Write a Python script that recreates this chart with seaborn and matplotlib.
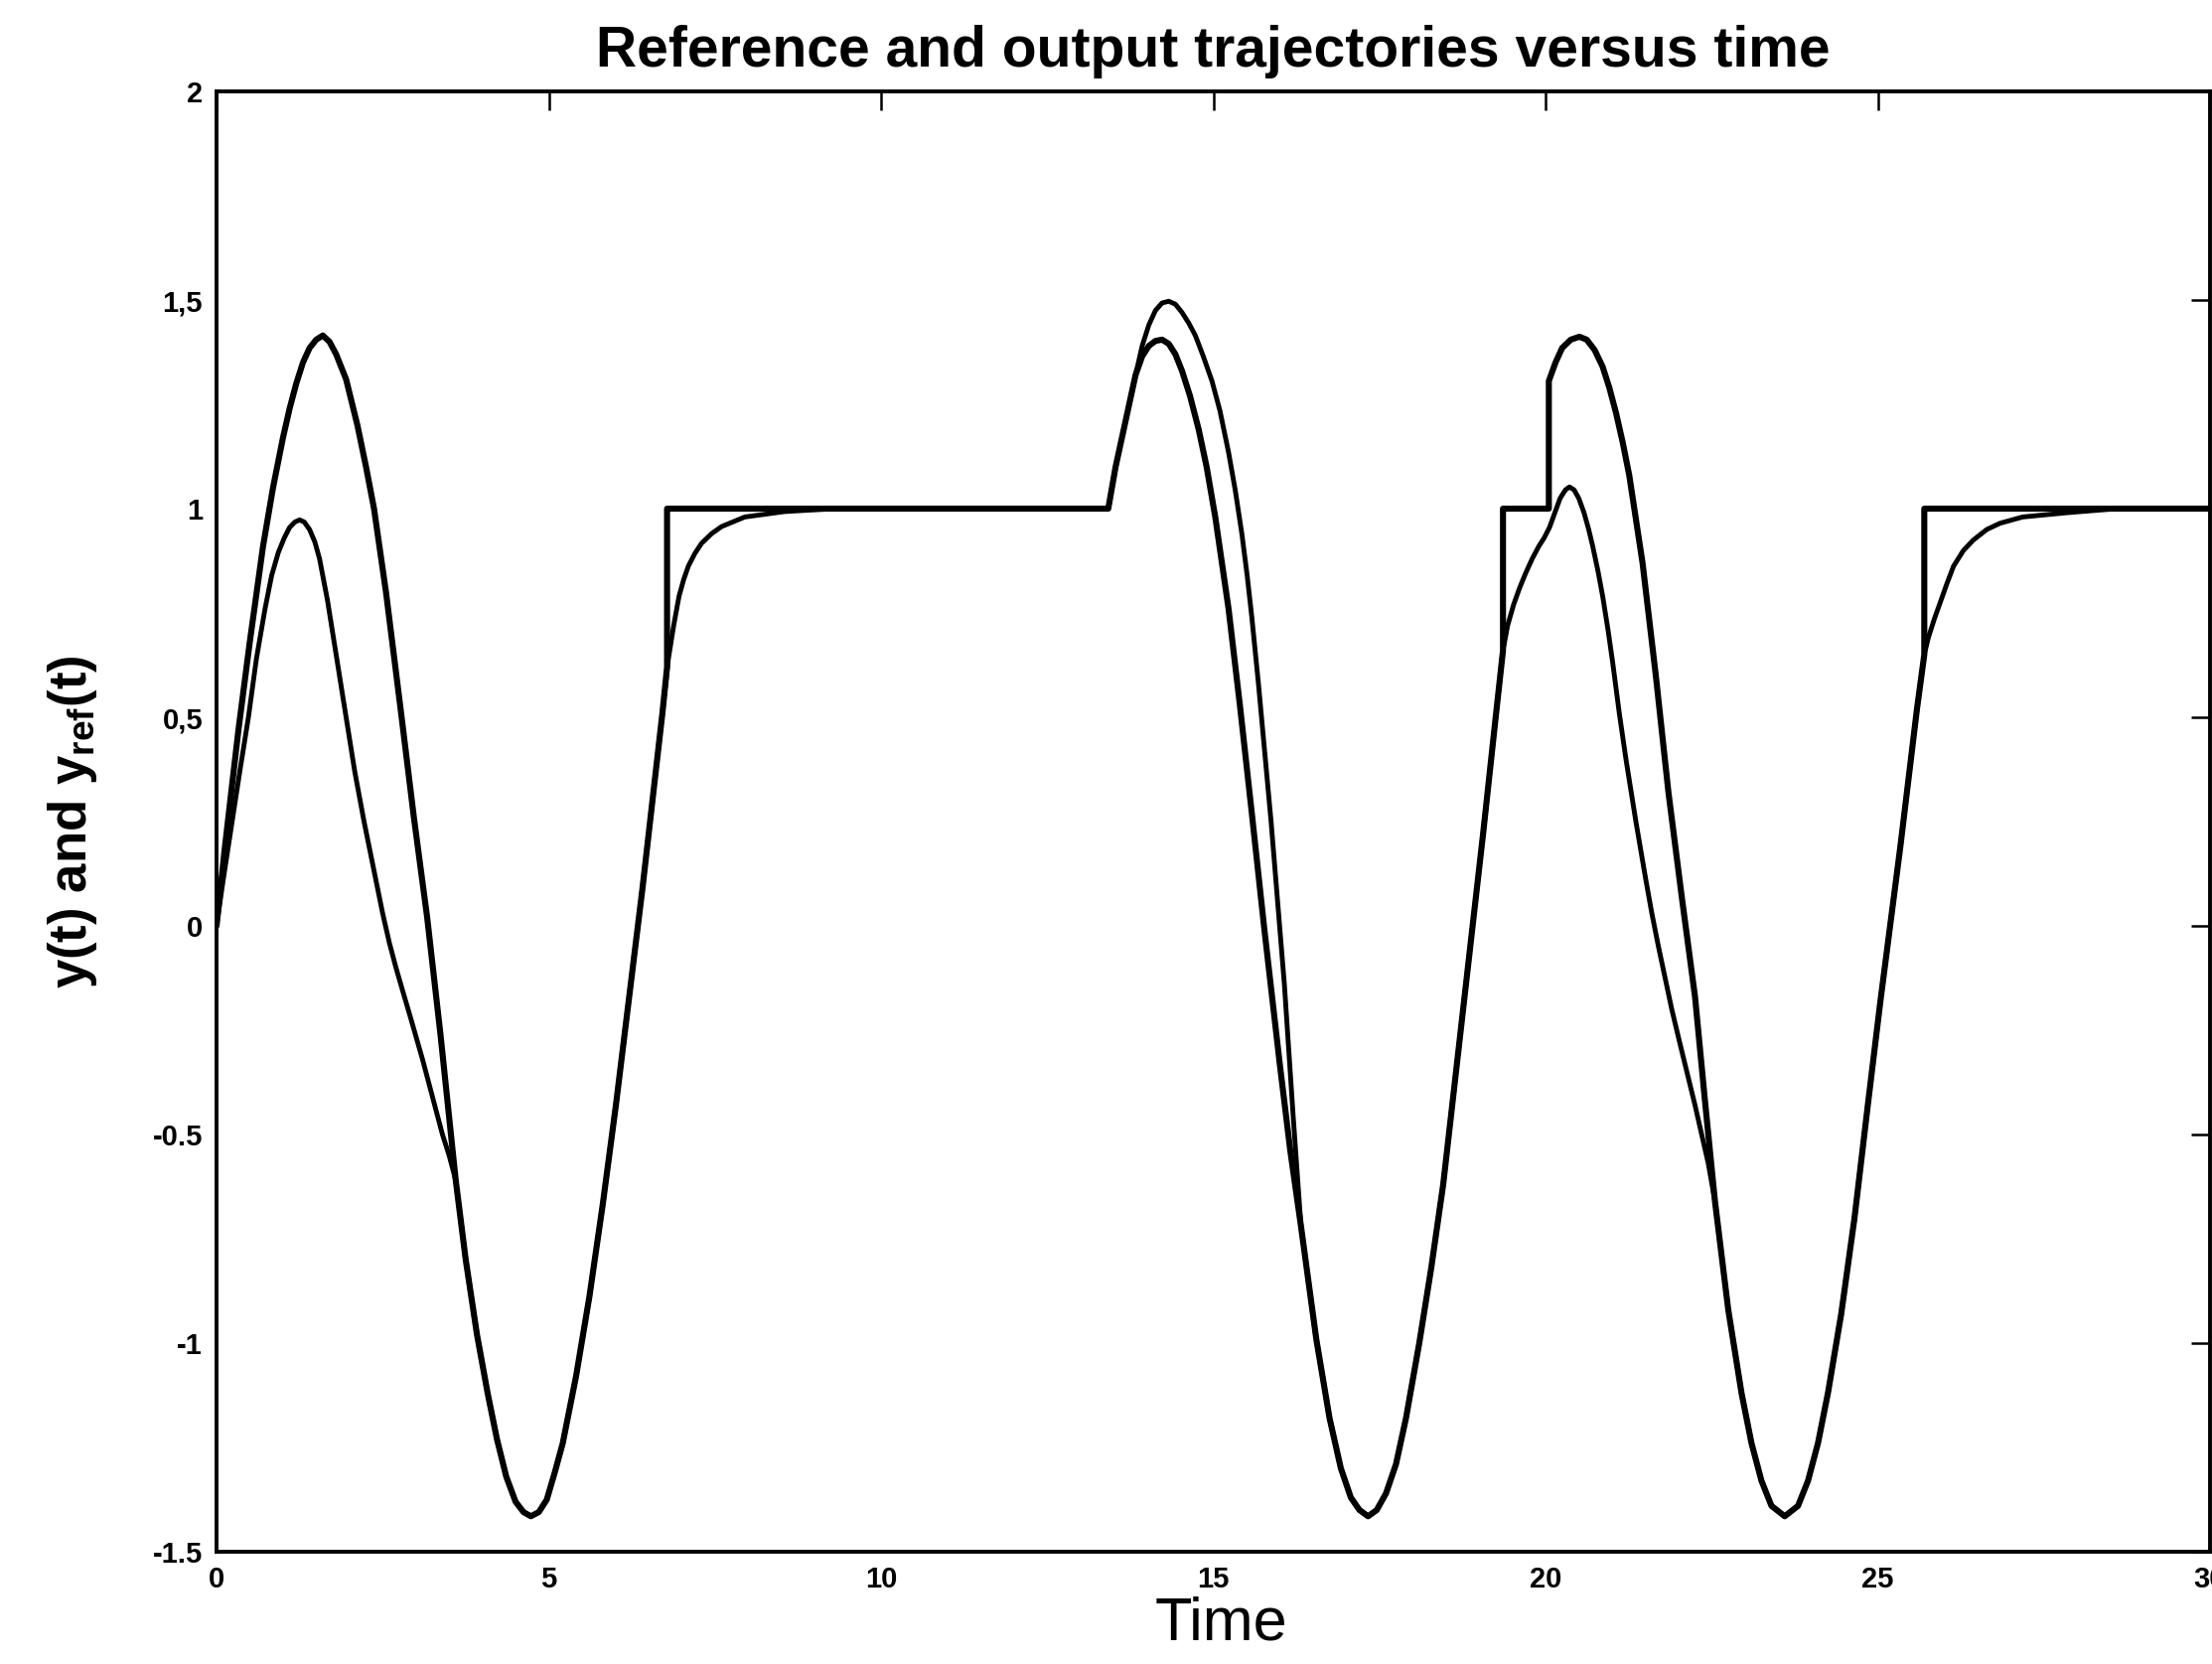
import numpy as np
import pandas as pd
import matplotlib
matplotlib.use("Agg")
import matplotlib.pyplot as plt
import seaborn as sns

# ---------------- data ----------------
# reference trajectory y_ref(t)
ref_t = [0.00, 0.12, 0.25, 0.33, 0.50, 0.70, 0.85, 1.00, 1.10, 1.20, 1.30, 1.40, 1.50, 1.60,
         1.70, 1.80, 1.95, 2.12, 2.25, 2.37, 2.55, 2.77, 2.97, 3.17, 3.37, 3.60, 3.75, 3.92,
         4.08, 4.22, 4.36, 4.50, 4.62, 4.73, 4.85, 4.97, 5.09, 5.21, 5.41, 5.61, 5.81, 6.01,
         6.21, 6.41, 6.56, 6.71, 6.78, 6.78,
         13.42, 13.53, 13.68, 13.83, 13.93, 14.03, 14.13, 14.23, 14.33, 14.43, 14.53, 14.65,
         14.78, 14.90, 15.03, 15.23, 15.40, 15.58, 15.77, 16.00, 16.16,
         16.32, 16.55, 16.75, 16.92, 17.07, 17.20, 17.33, 17.46, 17.60, 17.75, 17.90, 18.10,
         18.28, 18.46, 18.76, 19.06, 19.25, 19.36, 19.36,
         20.05, 20.05, 20.15, 20.25, 20.38, 20.51, 20.62, 20.74, 20.86, 20.96, 21.06, 21.16,
         21.26, 21.46, 21.66, 21.85, 22.05, 22.25, 22.40, 22.55,
         22.75, 22.95, 23.10, 23.25, 23.40, 23.60, 23.80, 23.95, 24.10, 24.25, 24.45, 24.65,
         24.85, 25.04, 25.34, 25.59, 25.70, 25.70, 30.00]
ref_y = [0.00, 0.18, 0.36, 0.47, 0.68, 0.91, 1.05, 1.17, 1.24, 1.30, 1.35, 1.385, 1.405, 1.415,
         1.40, 1.37, 1.31, 1.20, 1.10, 1.00, 0.80, 0.52, 0.26, 0.02, -0.26, -0.61, -0.80, -0.98,
         -1.12, -1.23, -1.32, -1.38, -1.405, -1.415, -1.405, -1.375, -1.31, -1.24, -1.08, -0.89,
         -0.67, -0.43, -0.17, 0.09, 0.30, 0.51, 0.62, 1.00,
         1.00, 1.10, 1.21, 1.32, 1.365, 1.39, 1.402, 1.405, 1.395, 1.37, 1.33, 1.27,
         1.19, 1.10, 0.98, 0.76, 0.53, 0.27, -0.01, -0.33, -0.54,
         -0.72, -0.99, -1.18, -1.30, -1.37, -1.40, -1.415, -1.40, -1.36, -1.29, -1.18, -1.00,
         -0.82, -0.62, -0.20, 0.22, 0.50, 0.66, 1.00,
         1.00, 1.306, 1.35, 1.385, 1.405, 1.412, 1.405, 1.38, 1.34, 1.29, 1.23, 1.16,
         1.08, 0.87, 0.60, 0.32, 0.07, -0.17, -0.42, -0.66,
         -0.92, -1.12, -1.24, -1.33, -1.39, -1.415, -1.39, -1.33, -1.24, -1.12, -0.93, -0.70,
         -0.43, -0.18, 0.19, 0.52, 0.65, 1.00, 1.00]

# output trajectory y(t)
out_t = [0.00, 0.10, 0.23, 0.35, 0.48, 0.60, 0.73, 0.83, 0.93, 1.02, 1.10, 1.18, 1.25, 1.32,
         1.40, 1.48, 1.55, 1.67, 1.80, 1.95, 2.08, 2.22, 2.36, 2.50, 2.60, 2.70, 2.80, 2.92,
         3.10, 3.25, 3.40, 3.50, 3.60, 3.75, 3.92, 4.08, 4.22, 4.36, 4.50, 4.62, 4.73, 4.85,
         4.97, 5.09, 5.21, 5.41, 5.61, 5.81, 6.01, 6.21, 6.41, 6.56, 6.71, 6.80, 6.88, 6.96,
         7.03, 7.10, 7.20, 7.30, 7.45, 7.60, 7.95, 8.55, 9.30,
         13.42, 13.53, 13.68, 13.83, 13.93, 14.03, 14.13, 14.23, 14.33, 14.43, 14.53, 14.63,
         14.73, 14.85, 14.98, 15.10, 15.23, 15.33, 15.43, 15.51, 15.58, 15.68, 15.87, 16.07,
         16.20, 16.32, 16.55, 16.75, 16.92, 17.07, 17.20, 17.33, 17.46, 17.60, 17.75, 17.90,
         18.10, 18.28, 18.46, 18.76, 19.06, 19.25, 19.36, 19.43, 19.52, 19.61, 19.70, 19.80,
         19.90, 19.98, 20.06, 20.14, 20.22, 20.30, 20.36, 20.43, 20.50, 20.58, 20.65, 20.71,
         20.79, 20.86, 20.94, 21.01, 21.11, 21.21, 21.36, 21.51, 21.60, 21.70, 21.80, 21.90,
         22.02, 22.15, 22.25, 22.35, 22.45, 22.55, 22.75, 22.95, 23.10, 23.25, 23.40, 23.60,
         23.80, 23.95, 24.10, 24.25, 24.45, 24.65, 24.85, 25.04, 25.34, 25.59, 25.70, 25.76,
         25.85, 25.94, 26.04, 26.14, 26.29, 26.44, 26.64, 26.84, 27.18, 27.83, 28.60, 30.00]
out_y = [0.00, 0.11, 0.245, 0.37, 0.50, 0.64, 0.76, 0.84, 0.895, 0.93, 0.955, 0.968, 0.973,
         0.968, 0.95, 0.92, 0.88, 0.78, 0.65, 0.50, 0.37, 0.25, 0.14, 0.03, -0.04, -0.10,
         -0.155, -0.22, -0.32, -0.41, -0.50, -0.55, -0.61, -0.80, -0.98, -1.12, -1.23, -1.32,
         -1.38, -1.405, -1.415, -1.405, -1.375, -1.31, -1.24, -1.08, -0.89, -0.67, -0.43, -0.17,
         0.09, 0.30, 0.51, 0.64, 0.72, 0.79, 0.83, 0.862, 0.893, 0.917, 0.94, 0.957, 0.98,
         0.993, 1.00,
         1.00, 1.10, 1.21, 1.32, 1.39, 1.44, 1.475, 1.493, 1.497, 1.49, 1.47, 1.445,
         1.415, 1.365, 1.306, 1.235, 1.135, 1.045, 0.94, 0.84, 0.74, 0.58, 0.25, -0.14,
         -0.45, -0.72, -0.99, -1.18, -1.30, -1.37, -1.40, -1.415, -1.40, -1.36, -1.29, -1.18,
         -1.00, -0.82, -0.62, -0.20, 0.22, 0.50, 0.66, 0.72, 0.77, 0.81, 0.845, 0.88,
         0.91, 0.93, 0.955, 0.99, 1.025, 1.045, 1.052, 1.045, 1.025, 0.99, 0.95, 0.91,
         0.85, 0.79, 0.71, 0.632, 0.51, 0.40, 0.25, 0.11, 0.03, -0.05, -0.125, -0.20,
         -0.28, -0.365, -0.43, -0.50, -0.57, -0.66, -0.92, -1.12, -1.24, -1.33, -1.39, -1.415,
         -1.39, -1.33, -1.24, -1.12, -0.93, -0.70, -0.43, -0.18, 0.19, 0.52, 0.65, 0.69,
         0.735, 0.775, 0.82, 0.862, 0.90, 0.925, 0.95, 0.965, 0.98, 0.99, 1.00, 1.00]

x_ticks = [0, 5, 10, 15, 20, 25, 30]
x_ticklabels = ['0', '5', '10', '15', '20', '25', '30']
y_ticks = [-1.5, -1, -0.5, 0, 0.5, 1, 1.5, 2]
y_ticklabels = ['-1.5', '-1', '-0.5', '0', '0,5', '1', '1,5', '2']

title_text = 'Reference and output trajectories versus time'
xlabel_text = 'Time'
ylabel_text = r'y(t) and y$_{\mathbf{ref}}$(t)'

# ---------------- styling ----------------
sns.set_theme(style="white")
plt.rcParams['font.family'] = ['Liberation Sans', 'DejaVu Sans']
plt.rcParams['mathtext.fontset'] = 'custom'
plt.rcParams['mathtext.rm'] = 'Liberation Sans:bold'
plt.rcParams['mathtext.bf'] = 'Liberation Sans:bold'
plt.rcParams['mathtext.it'] = 'Liberation Sans:bold'
for key in ['text.color', 'axes.labelcolor', 'xtick.color', 'ytick.color',
            'axes.titlecolor', 'axes.edgecolor']:
    plt.rcParams[key] = 'black'

W, H = 2227, 1675
fig = plt.figure(figsize=(W / 100, H / 100), dpi=100)
fig.patch.set_facecolor('white')
left, right, top, bottom = 218, 2225, 92, 1562
ax = fig.add_axes([left / W, 1 - bottom / H, (right - left) / W, (bottom - top) / H])
ax.set_facecolor('white')

out_df = pd.DataFrame({'t': out_t, 'y': out_y})
ref_df = pd.DataFrame({'t': ref_t, 'y': ref_y})
sns.lineplot(data=out_df, x='t', y='y', sort=False, estimator=None, color='black',
             lw=3.5, ax=ax, solid_joinstyle='round', solid_capstyle='round')
sns.lineplot(data=ref_df, x='t', y='y', sort=False, estimator=None, color='black',
             lw=4.4, ax=ax, solid_joinstyle='round', solid_capstyle='round')

ax.set_xlim(0, 30)
ax.set_ylim(-1.5, 2)
ax.set_xticks(x_ticks)
ax.set_xticklabels(x_ticklabels)
ax.set_yticks(y_ticks)
ax.set_yticklabels(y_ticklabels)
ax.tick_params(direction='in', length=14, width=1.8, top=True, right=True,
               labelsize=21, colors='black')
ax.tick_params(axis='y', pad=10)
ax.tick_params(axis='x', pad=10)
for lab in ax.get_xticklabels() + ax.get_yticklabels():
    lab.set_fontweight('bold')
for sp in ax.spines.values():
    sp.set_visible(True)
    sp.set_color('black')
    sp.set_linewidth(2.8)
ax.grid(False)

ax.set_title(title_text, fontsize=41, fontweight='bold', pad=18, color='black')
ax.set_xlabel(xlabel_text, fontsize=44, color='black')
ax.xaxis.set_label_coords(0.504, -0.030)
ax.set_ylabel(ylabel_text, fontsize=38, fontweight='bold', color='black')
ax.yaxis.set_label_coords(-0.0722, 0.5)
ax.yaxis.label.set_va('center')

fig.savefig('out.png', dpi=100, facecolor='white')
